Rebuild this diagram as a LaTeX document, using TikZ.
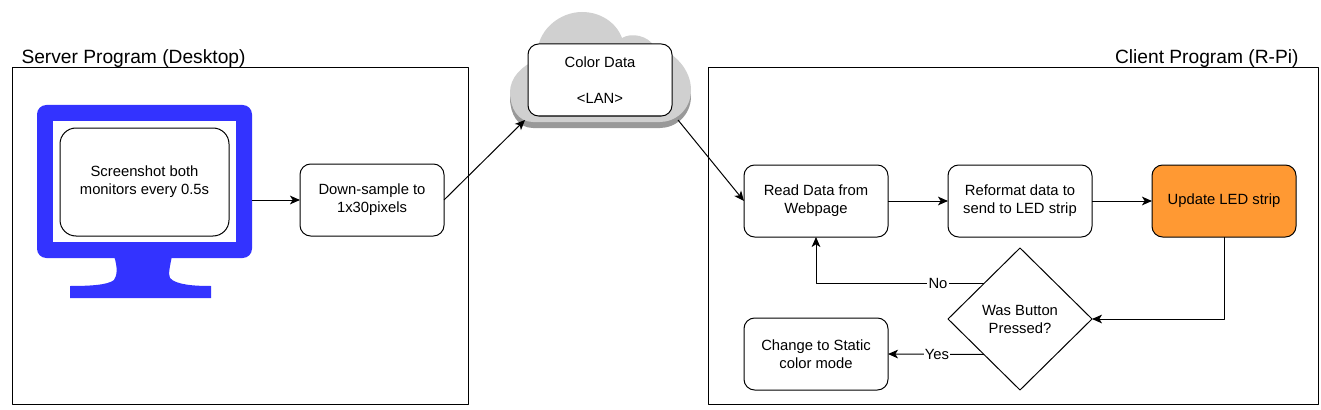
\documentclass[tikz,border=0pt]{standalone}
\usepackage{fontspec}
\setmainfont{Liberation Sans}
\usetikzlibrary{shapes.geometric, arrows.meta}
\definecolor{monitorblue}{HTML}{3333FF}
\definecolor{ledorange}{HTML}{FF9933}
\definecolor{cloudlight}{HTML}{D0D0D0}
\definecolor{clouddark}{HTML}{999999}
\tikzset{
	boxfont/.style={font=\fontsize{11.1}{13.5}\selectfont},
	procbox/.style={draw, rounded corners=8pt, align=center, inner sep=0pt, outer sep=0pt, minimum width=108pt, minimum height=54pt, boxfont},
	title/.style={inner sep=0pt, font=\fontsize{14.4}{17}\selectfont},
	frame/.style={draw, line width=.75pt},
	edgelabel/.style={fill=white, inner sep=1pt, boxfont}
}
\newcommand{\cloudoutline}{(533,122) .. controls (518,122) and (510,108) .. (510,92) .. controls (510,78) and (522,65) .. (537,60) .. controls (535,30) and (560,12) .. (582,12) .. controls (600,12) and (616,22) .. (622,38) .. controls (632,32) and (648,36) .. (654,46) .. controls (675,52) and (691,70) .. (691,90) .. controls (691,110) and (675,122) .. (660,122) -- cycle}
\begin{document}
\begin{tikzpicture}[x=.75pt, y=-.75pt, line join=round, >={Stealth[length=7.5pt, width=6.5pt, inset=2pt]}, line width=.75pt]
	\useasboundingbox (0,0) rectangle (1321,410);
	% outer frames
	\draw[frame] (12.5,68) rectangle (468.5,404);
	\draw[frame] (708.5,68) rectangle (1318,404);
	\node[title, anchor=west] (server) at (21,58.5) {Server Program (Desktop)};
	\node[title, anchor=east] (client) at (1299,58.5) {Client Program (R-Pi)};
	% monitor
	\fill[monitorblue] (114,256) .. controls (118,268) and (117,276) .. (114,280) .. controls (108,285) and (90,286) .. (70,286) -- (70,298) -- (211,298) -- (211,286) .. controls (195,286) and (176,285) .. (170,278) .. controls (168,274) and (170,266) .. (172,256) -- cycle;
	\node[fill=monitorblue, rounded corners=7pt, inner sep=0pt, outer sep=0pt, minimum width=161.25pt, minimum height=114.75pt] (monitor) at (144.5,181.5) {};
	\node[fill=white, inner sep=0pt, minimum width=137.25pt, minimum height=90.75pt] (screen) at (144.5,181.5) {};
	\node[procbox, rounded corners=12pt, minimum width=126.75pt, minimum height=81pt] (shot) at (144.5,182) {Screenshot both\\monitors every 0.5s};
	\node[procbox] (down) at (372,200) {Down-sample to\\1x30pixels};
	% cloud
	\fill[clouddark, shift={(0,6)}] \cloudoutline;
	\fill[cloudlight] \cloudoutline;
	\node[procbox, fill=white] (color) at (600,80) {Color Data\\[13.5pt]<LAN>};
	\coordinate (cloudin) at (525,120);
	\coordinate (cloudout) at (678,120);
	% client side
	\node[procbox] (read) at (816,201) {Read Data from\\Webpage};
	\node[procbox] (reform) at (1020,201) {Reformat data to\\send to LED strip};
	\node[procbox, fill=ledorange] (update) at (1224,201) {\raisebox{-1.5pt}{Update LED strip}};
	\node[draw, diamond, inner sep=0pt, outer sep=0pt, minimum width=108pt, minimum height=106.5pt, align=center, boxfont] (press) at (1020,319) {Was Button\\Pressed?};
	\node[procbox] (change) at (816,354) {Change to Static\\color mode};
	% connectors
	\draw[->] (monitor.east |- down.west) -- (down.west);
	\draw[->] (down.east) -- (cloudin);
	\draw[->] (cloudout) -- (read.west);
	\draw[->] (read.east) -- (reform.west);
	\draw[->] (reform.east) -- (update.west);
	\draw[->] (update.south) |- (press.east);
	\draw[->] (press.north west) -| node[pos=.137, edgelabel]{No} (read.south);
	\draw[->] (press.south west) -- node[pos=.49, edgelabel]{Yes} (change.east);
\end{tikzpicture}
\end{document}
